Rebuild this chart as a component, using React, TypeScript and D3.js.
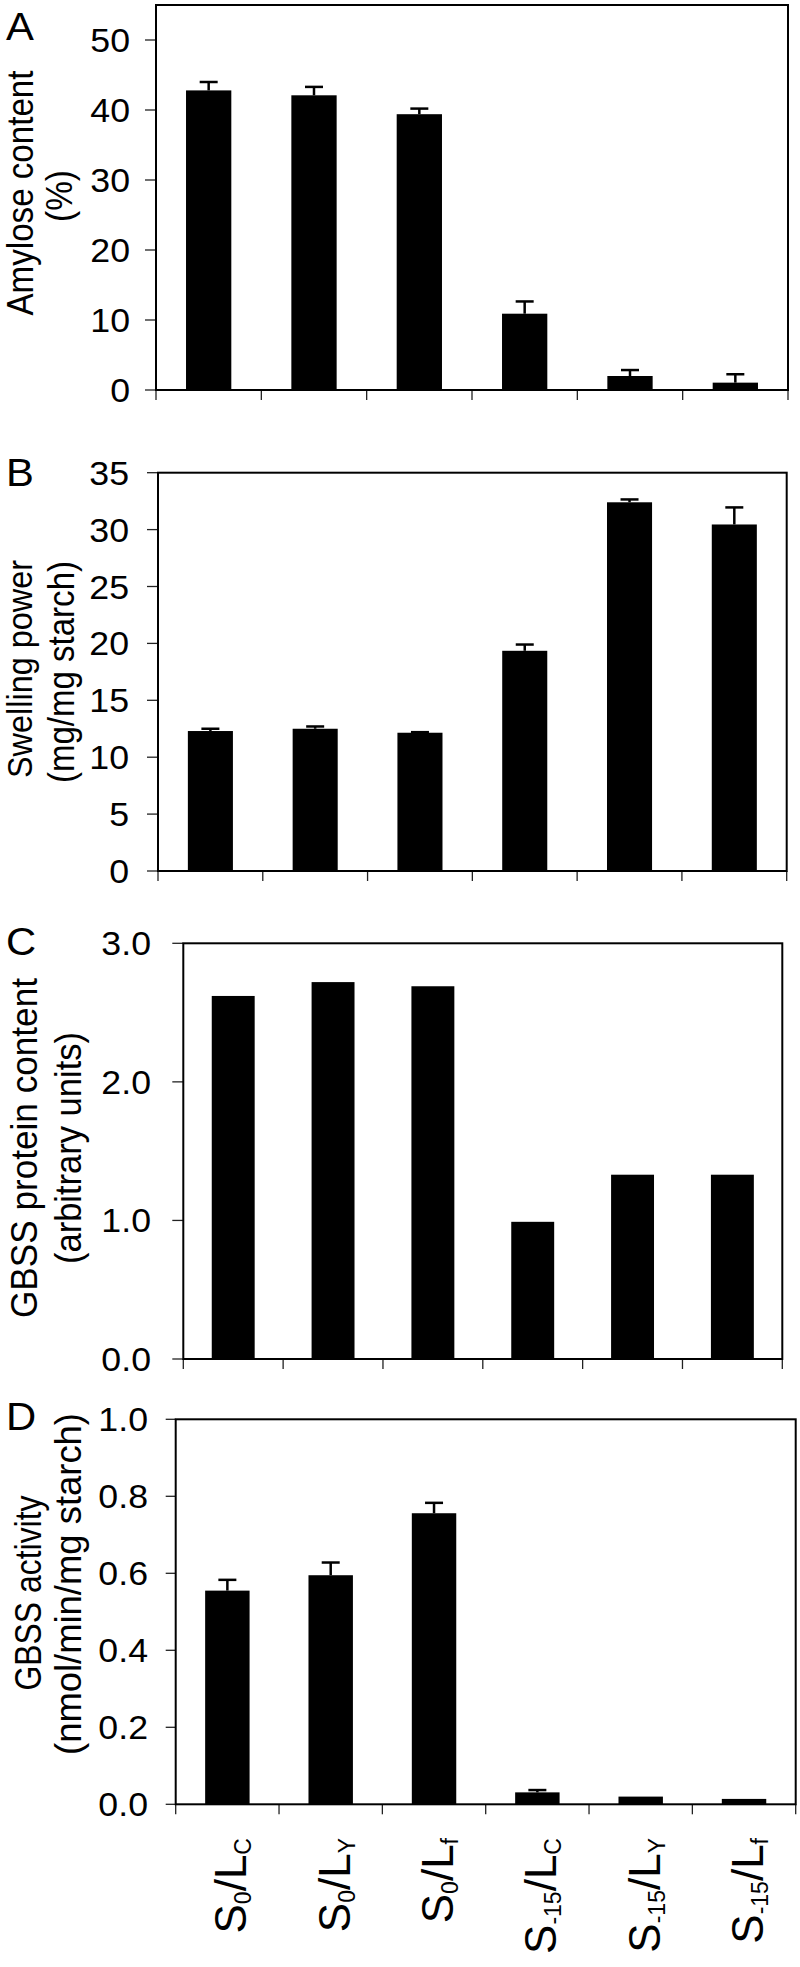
import React from "react";
import * as d3 from "d3";

// ---------- data ----------
const sSub = ["0", "0", "0", "-15", "-15", "-15"];
const lSub = ["C", "Y", "f", "C", "Y", "f"];
const categories = sSub.map((s, i) => `S${s}/L${lSub[i]}`);

const amylose = [42.8, 42.1, 39.4, 10.9, 2.0, 1.05];
const amyloseErr = [1.2, 1.2, 0.8, 1.75, 0.85, 1.2];

const swelling = [12.3, 12.5, 12.15, 19.35, 32.4, 30.45];
const swellingErr = [0.2, 0.2, 0.05, 0.55, 0.25, 1.5];

const gbssProtein = [2.62, 2.72, 2.69, 0.99, 1.33, 1.33];

const gbssActivity = [0.555, 0.595, 0.756, 0.031, 0.02, 0.014];
const gbssActivityErr = [0.028, 0.033, 0.027, 0.006, 0, 0];

const amyloseTicks = [0, 10, 20, 30, 40, 50];
const swellingTicks = [0, 5, 10, 15, 20, 25, 30, 35];
const proteinTicks = [0, 1, 2, 3];
const activityTicks = [0, 0.2, 0.4, 0.6, 0.8, 1.0];

const FONT = "'Liberation Sans', Arial, Helvetica, sans-serif";

type PanelCfg = {
  letter: string;
  letterY: number;
  values: number[];
  errors: number[] | null;
  domain: [number, number];
  ticks: number[];
  fmt: (n: number) => string;
  left: number;
  right: number;
  top: number;
  bottom: number;
  tickLabelX: number;
  tickLen: number;
  titles: string[];
  titleX: number[];
  titleY: number[];
  titleLen: number[];
  titleSize: number[];
  showXLabels: boolean;
};

const panels: PanelCfg[] = [
  {
    letter: "A", letterY: 40,
    values: amylose, errors: amyloseErr,
    domain: [0, 55], ticks: amyloseTicks, fmt: d3.format("d"),
    left: 156, right: 788, top: 5, bottom: 390,
    tickLabelX: 130, tickLen: 11,
    titles: ["Amylose content", "(%)"],
    titleX: [33, 72], titleY: [193, 196], titleLen: [245, 52], titleSize: [36, 36],
    showXLabels: false,
  },
  {
    letter: "B", letterY: 486,
    values: swelling, errors: swellingErr,
    domain: [0, 35], ticks: swellingTicks, fmt: d3.format("d"),
    left: 158, right: 786.7, top: 472.7, bottom: 871,
    tickLabelX: 129, tickLen: 11,
    titles: ["Swelling power", "(mg/mg starch)"],
    titleX: [32, 73.5], titleY: [669, 672], titleLen: [218, 222], titleSize: [35, 36],
    showXLabels: false,
  },
  {
    letter: "C", letterY: 955,
    values: gbssProtein, errors: null,
    domain: [0, 3], ticks: proteinTicks, fmt: d3.format(".1f"),
    left: 183.3, right: 782.3, top: 943.3, bottom: 1359,
    tickLabelX: 151, tickLen: 11,
    titles: ["GBSS protein content", "(arbitrary units)"],
    titleX: [37, 81], titleY: [1148, 1148], titleLen: [340, 232], titleSize: [37, 37],
    showXLabels: false,
  },
  {
    letter: "D", letterY: 1430,
    values: gbssActivity, errors: gbssActivityErr,
    domain: [0, 1], ticks: activityTicks, fmt: d3.format(".1f"),
    left: 175.7, right: 795.7, top: 1419.3, bottom: 1804.3,
    tickLabelX: 148, tickLen: 10,
    titles: ["GBSS activity", "(nmol/min/mg starch)"],
    titleX: [41, 81], titleY: [1593, 1584], titleLen: [195, 342], titleSize: [36, 37],
    showXLabels: true,
  },
];

function Panel({ cfg }: { cfg: PanelCfg }) {
  const x = d3
    .scaleBand<string>()
    .domain(categories)
    .range([cfg.left, cfg.right])
    .paddingInner(0.57)
    .paddingOuter(0.285);
  const y = d3.scaleLinear().domain(cfg.domain).range([cfg.bottom, cfg.top]);
  const step = x.step();
  const boundaries = d3.range(categories.length + 1).map((i) => cfg.left + i * step);
  const bw = x.bandwidth();
  const capHalf = 9;

  return (
    <g>
      {/* panel letter */}
      <text
        transform={`translate(6,${cfg.letterY}) scale(1.1,1)`}
        fontSize={38}
        fontFamily={FONT}
        fill="#000"
      >
        {cfg.letter}
      </text>

      {/* axis titles */}
      {cfg.titles.map((t, i) => (
        <text
          key={t}
          transform={`translate(${cfg.titleX[i]},${cfg.titleY[i]}) rotate(-90)`}
          textAnchor="middle"
          fontSize={cfg.titleSize[i]}
          fontFamily={FONT}
          textLength={cfg.titleLen[i]}
          lengthAdjust="spacingAndGlyphs"
          fill="#000"
        >
          {t}
        </text>
      ))}

      {/* y ticks */}
      {cfg.ticks.map((t) => (
        <g key={t}>
          <line
            x1={cfg.left - cfg.tickLen}
            x2={cfg.left}
            y1={y(t)}
            y2={y(t)}
            stroke="#222"
            strokeWidth={1.3}
          />
          <text
            transform={`translate(${cfg.tickLabelX},${y(t) + 12}) scale(1.05,1)`}
            textAnchor="end"
            fontSize={34}
            fontFamily={FONT}
            fill="#000"
          >
            {cfg.fmt(t)}
          </text>
        </g>
      ))}

      {/* x ticks */}
      {boundaries.map((bx, i) => (
        <line
          key={i}
          x1={bx}
          x2={bx}
          y1={cfg.bottom}
          y2={cfg.bottom + 10}
          stroke="#222"
          strokeWidth={1.3}
        />
      ))}

      {/* bars */}
      {categories.map((c, i) => (
        <rect
          key={c}
          x={x(c)!}
          y={y(cfg.values[i])}
          width={bw}
          height={cfg.bottom - y(cfg.values[i])}
          fill="#000"
        />
      ))}

      {/* error bars */}
      {cfg.errors &&
        categories.map((c, i) => {
          const e = cfg.errors![i];
          if (!e) return null;
          const cx = x(c)! + bw / 2;
          const y0 = y(cfg.values[i]);
          const y1 = y(cfg.values[i] + e);
          return (
            <g key={c}>
              <line x1={cx} x2={cx} y1={y0} y2={y1} stroke="#000" strokeWidth={2.5} />
              <line
                x1={cx - capHalf}
                x2={cx + capHalf}
                y1={y1}
                y2={y1}
                stroke="#000"
                strokeWidth={2.5}
              />
            </g>
          );
        })}

      {/* frame */}
      <rect
        x={cfg.left}
        y={cfg.top}
        width={cfg.right - cfg.left}
        height={cfg.bottom - cfg.top}
        fill="none"
        stroke="#000"
        strokeWidth={2}
      />

      {/* category labels */}
      {cfg.showXLabels &&
        categories.map((c, i) => {
          const cx = x(c)! + bw / 2;
          return (
            <text
              key={c}
              transform={`translate(${cx + 19},1838) rotate(-90)`}
              textAnchor="end"
              fontSize={44}
              fontFamily={FONT}
              fill="#000"
            >
              <tspan>S</tspan>
              <tspan fontSize={23} dy={5}>
                {sSub[i]}
              </tspan>
              <tspan dy={-5}>/L</tspan>
              <tspan fontSize={23} dy={5}>
                {lSub[i]}
              </tspan>
            </text>
          );
        })}
    </g>
  );
}

export default function App() {
  return (
    <svg
      width={800}
      height={1967}
      viewBox="0 0 800 1967"
      style={{ position: "absolute", left: 0, top: 0, background: "#fff" }}
    >
      <rect x={0} y={0} width={800} height={1967} fill="#fff" />
      {panels.map((p) => (
        <Panel key={p.letter} cfg={p} />
      ))}
    </svg>
  );
}
